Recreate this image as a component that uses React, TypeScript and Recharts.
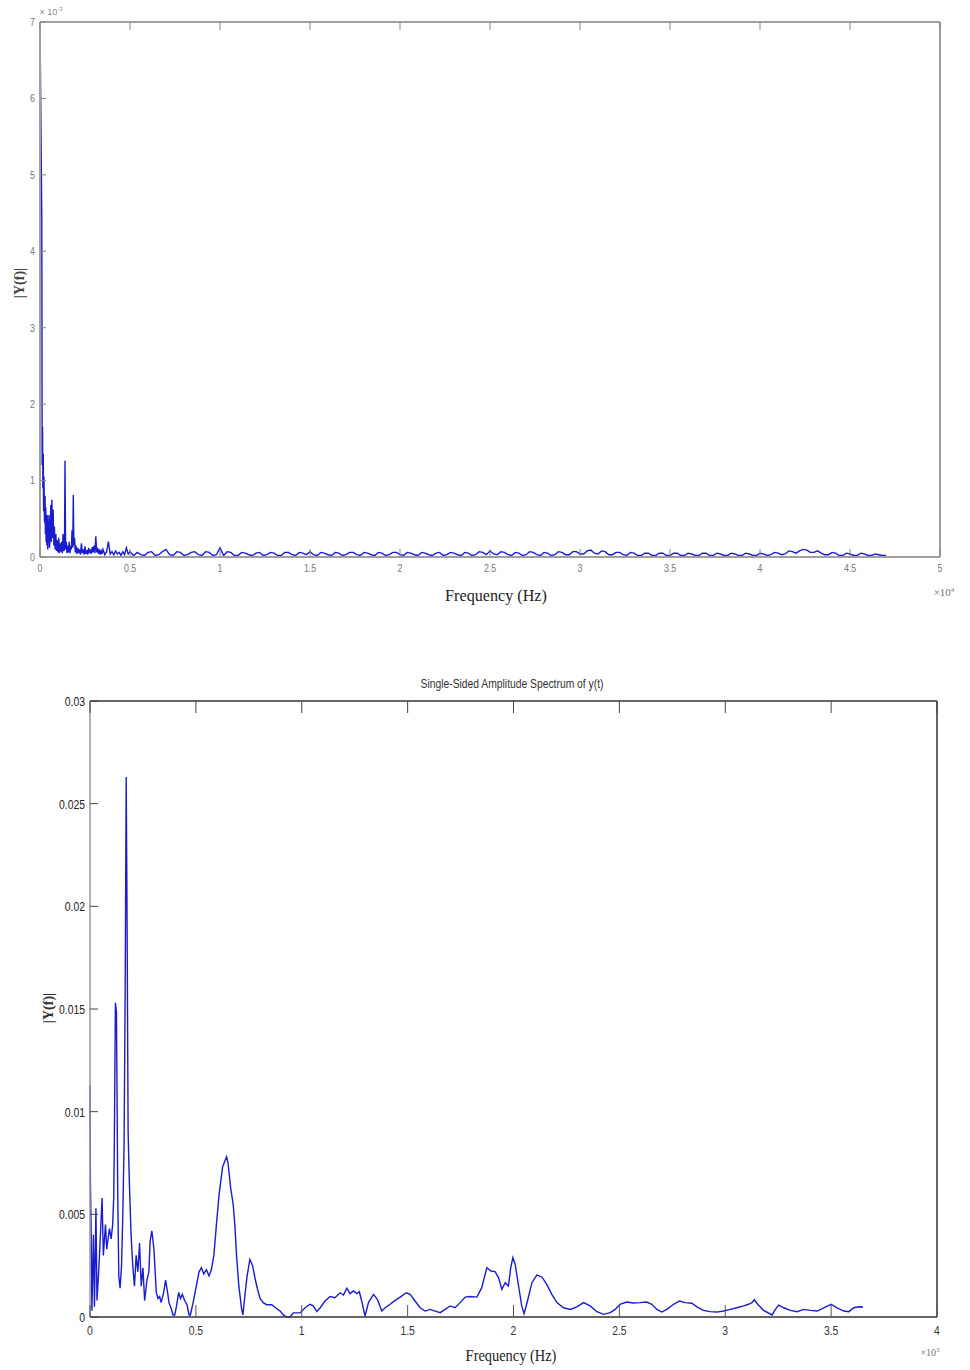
import { LineChart, Line, XAxis, YAxis } from "recharts";

// top plot: frequency in x10^4 Hz, amplitude in x10^-3
const topSpectrum: [number, number][] = [
  [0, 7.0], [0.01, 4.4], [0.012, 1.2], [0.014, 1.7], [0.016, 0.9], [0.018, 1.35],
  [0.02, 0.6], [0.022, 1.05], [0.025, 0.45], [0.028, 0.8], [0.03, 0.3], [0.032, 0.65],
  [0.034, 0.2], [0.036, 0.45], [0.038, 0.15], [0.04, 0.55], [0.043, 0.1], [0.047, 0.35],
  [0.05, 0.55], [0.053, 0.12], [0.057, 0.3], [0.06, 0.68], [0.063, 0.2], [0.066, 0.75],
  [0.07, 0.25], [0.073, 0.62], [0.077, 0.15], [0.08, 0.4], [0.084, 0.1], [0.088, 0.3],
  [0.092, 0.08], [0.096, 0.22], [0.1, 0.06], [0.104, 0.25], [0.108, 0.05], [0.112, 0.18],
  [0.116, 0.07], [0.12, 0.2], [0.124, 0.05], [0.128, 0.3], [0.132, 0.08], [0.136, 0.1],
  [0.139, 1.26], [0.142, 0.1], [0.146, 0.2], [0.15, 0.05], [0.154, 0.15], [0.158, 0.06],
  [0.162, 0.2], [0.166, 0.05], [0.17, 0.12], [0.174, 0.1], [0.178, 0.35], [0.182, 0.12],
  [0.185, 0.81], [0.188, 0.15], [0.192, 0.25], [0.196, 0.06], [0.2, 0.15], [0.205, 0.04],
  [0.21, 0.12], [0.215, 0.05], [0.22, 0.1], [0.225, 0.03], [0.23, 0.18], [0.235, 0.05],
  [0.24, 0.1], [0.245, 0.03], [0.25, 0.14], [0.255, 0.04], [0.26, 0.09], [0.265, 0.03],
  [0.27, 0.12], [0.275, 0.05], [0.28, 0.1], [0.285, 0.04], [0.29, 0.13], [0.295, 0.06],
  [0.3, 0.15], [0.305, 0.05], [0.31, 0.27], [0.315, 0.06], [0.32, 0.12], [0.325, 0.04],
  [0.33, 0.1], [0.335, 0.03], [0.34, 0.08], [0.345, 0.04], [0.35, 0.1], [0.36, 0.03],
  [0.37, 0.07], [0.38, 0.2], [0.39, 0.04], [0.4, 0.07], [0.41, 0.03], [0.42, 0.08],
  [0.43, 0.04], [0.44, 0.06], [0.45, 0.02], [0.46, 0.07], [0.47, 0.03], [0.48, 0.12],
  [0.49, 0.04], [0.5, 0.07], [0.52, 0.02], [0.54, 0.06], [0.56, 0.03], [0.58, 0.02],
  [0.6, 0.06], [0.62, 0.07], [0.64, 0.02], [0.66, 0.03], [0.68, 0.07], [0.7, 0.1],
  [0.72, 0.03], [0.74, 0.02], [0.76, 0.07], [0.78, 0.06], [0.8, 0.02], [0.82, 0.03],
  [0.84, 0.06], [0.86, 0.07], [0.88, 0.03], [0.9, 0.02], [0.92, 0.07], [0.94, 0.06],
  [0.96, 0.02], [0.98, 0.03], [1.0, 0.12], [1.02, 0.02], [1.04, 0.07], [1.06, 0.06],
  [1.08, 0.02], [1.1, 0.02], [1.12, 0.06], [1.14, 0.05], [1.16, 0.03], [1.18, 0.02],
  [1.2, 0.05], [1.22, 0.06], [1.24, 0.02], [1.26, 0.03], [1.28, 0.06], [1.3, 0.05],
  [1.32, 0.02], [1.34, 0.02], [1.36, 0.06], [1.38, 0.06], [1.4, 0.03], [1.42, 0.02],
  [1.44, 0.06], [1.46, 0.05], [1.48, 0.03], [1.5, 0.07], [1.52, 0.03], [1.54, 0.02],
  [1.56, 0.06], [1.58, 0.05], [1.6, 0.03], [1.62, 0.02], [1.64, 0.06], [1.66, 0.05],
  [1.68, 0.02], [1.7, 0.03], [1.72, 0.06], [1.74, 0.06], [1.76, 0.03], [1.78, 0.02],
  [1.8, 0.06], [1.82, 0.05], [1.84, 0.03], [1.86, 0.02], [1.88, 0.06], [1.9, 0.05],
  [1.92, 0.02], [1.94, 0.03], [1.96, 0.06], [1.98, 0.06], [2.0, 0.03], [2.02, 0.02],
  [2.04, 0.06], [2.06, 0.05], [2.08, 0.03], [2.1, 0.02], [2.12, 0.06], [2.14, 0.05],
  [2.16, 0.03], [2.18, 0.02], [2.2, 0.05], [2.22, 0.06], [2.24, 0.02], [2.26, 0.03],
  [2.28, 0.06], [2.3, 0.05], [2.32, 0.03], [2.34, 0.02], [2.36, 0.06], [2.38, 0.05],
  [2.4, 0.02], [2.42, 0.03], [2.44, 0.07], [2.46, 0.06], [2.48, 0.03], [2.5, 0.08],
  [2.52, 0.04], [2.54, 0.03], [2.56, 0.07], [2.58, 0.06], [2.6, 0.03], [2.62, 0.02],
  [2.64, 0.06], [2.66, 0.05], [2.68, 0.02], [2.7, 0.03], [2.72, 0.07], [2.74, 0.06],
  [2.76, 0.03], [2.78, 0.02], [2.8, 0.06], [2.82, 0.05], [2.84, 0.02], [2.86, 0.03],
  [2.88, 0.07], [2.9, 0.06], [2.92, 0.03], [2.94, 0.03], [2.96, 0.07], [2.98, 0.07],
  [3.0, 0.04], [3.02, 0.04], [3.04, 0.08], [3.06, 0.09], [3.08, 0.05], [3.1, 0.04],
  [3.12, 0.08], [3.14, 0.07], [3.16, 0.03], [3.18, 0.03], [3.2, 0.06], [3.22, 0.06],
  [3.24, 0.03], [3.26, 0.02], [3.28, 0.06], [3.3, 0.05], [3.32, 0.02], [3.34, 0.02],
  [3.36, 0.05], [3.38, 0.05], [3.4, 0.02], [3.42, 0.02], [3.44, 0.05], [3.46, 0.05],
  [3.48, 0.02], [3.5, 0.02], [3.52, 0.05], [3.54, 0.05], [3.56, 0.02], [3.58, 0.02],
  [3.6, 0.05], [3.62, 0.04], [3.64, 0.02], [3.66, 0.02], [3.68, 0.05], [3.7, 0.05],
  [3.72, 0.02], [3.74, 0.02], [3.76, 0.05], [3.78, 0.04], [3.8, 0.02], [3.82, 0.02],
  [3.84, 0.05], [3.86, 0.04], [3.88, 0.02], [3.9, 0.02], [3.92, 0.05], [3.94, 0.04],
  [3.96, 0.02], [3.98, 0.02], [4.0, 0.05], [4.02, 0.04], [4.04, 0.02], [4.06, 0.03],
  [4.08, 0.06], [4.1, 0.05], [4.12, 0.03], [4.14, 0.04], [4.16, 0.08], [4.18, 0.07],
  [4.2, 0.05], [4.22, 0.08], [4.24, 0.1], [4.26, 0.09], [4.28, 0.06], [4.3, 0.06],
  [4.32, 0.08], [4.34, 0.05], [4.36, 0.03], [4.38, 0.03], [4.4, 0.06], [4.42, 0.05],
  [4.44, 0.02], [4.46, 0.02], [4.48, 0.05], [4.5, 0.04], [4.52, 0.02], [4.54, 0.02],
  [4.56, 0.05], [4.58, 0.04], [4.6, 0.02], [4.62, 0.02], [4.64, 0.04], [4.66, 0.03],
  [4.68, 0.02], [4.7, 0.02],
];

// bottom plot: frequency in x10^3 Hz
const bottomSpectrum: [number, number][] = [
  [0, 0.0113], [0.002, 0.0065], [0.005, 0.0045], [0.009, 0.0003], [0.016, 0.004],
  [0.021, 0.0005], [0.028, 0.0053], [0.033, 0.0008], [0.041, 0.0022], [0.047, 0.0035],
  [0.057, 0.0058], [0.063, 0.003], [0.073, 0.0045], [0.079, 0.0033], [0.092, 0.0043],
  [0.1, 0.0038], [0.107, 0.0045], [0.112, 0.0058], [0.115, 0.0085], [0.12, 0.0153],
  [0.125, 0.0148], [0.131, 0.006], [0.136, 0.002], [0.142, 0.0014], [0.149, 0.0025],
  [0.155, 0.005], [0.161, 0.0085], [0.166, 0.0158], [0.171, 0.0263], [0.175, 0.0195],
  [0.18, 0.009], [0.186, 0.0065], [0.194, 0.004], [0.202, 0.0025], [0.21, 0.0015],
  [0.218, 0.003], [0.226, 0.0022], [0.234, 0.0036], [0.242, 0.0015], [0.25, 0.0024],
  [0.258, 0.0008], [0.269, 0.0018], [0.278, 0.0022], [0.284, 0.0037], [0.292, 0.0042],
  [0.302, 0.0033], [0.313, 0.0012], [0.321, 0.0009], [0.329, 0.001], [0.336, 0.0007],
  [0.348, 0.0012], [0.357, 0.0018], [0.365, 0.0013], [0.373, 0.0007], [0.384, 0.0004],
  [0.392, 0.0001], [0.4, 0.0001], [0.408, 0.0005], [0.419, 0.0012], [0.427, 0.0009],
  [0.436, 0.0011], [0.447, 0.0008], [0.458, 0.0006], [0.468, 0.0001], [0.474, 0.0001],
  [0.487, 0.0007], [0.502, 0.0015], [0.515, 0.0022], [0.526, 0.0024], [0.537, 0.0021],
  [0.55, 0.0023], [0.562, 0.002], [0.573, 0.0023], [0.585, 0.003], [0.597, 0.0045],
  [0.61, 0.006], [0.626, 0.0073], [0.637, 0.0076], [0.645, 0.0078], [0.652, 0.0075],
  [0.664, 0.0063], [0.676, 0.0055], [0.684, 0.0045], [0.692, 0.003], [0.703, 0.0015],
  [0.716, 0.0004], [0.722, 0.0001], [0.731, 0.001], [0.742, 0.002], [0.755, 0.0028],
  [0.768, 0.0025], [0.779, 0.0019], [0.79, 0.0014], [0.803, 0.0009], [0.818, 0.0007],
  [0.834, 0.0006], [0.858, 0.0006], [0.882, 0.0004], [0.897, 0.0003], [0.913, 0.0001],
  [0.929, 0], [0.945, 0], [0.96, 0.0002], [0.976, 0.0002], [0.992, 0.0002],
  [1.016, 0.00045], [1.039, 0.00062], [1.055, 0.00054], [1.071, 0.00026], [1.087, 0.00045],
  [1.11, 0.00078], [1.134, 0.001], [1.157, 0.00094], [1.181, 0.00118], [1.197, 0.00107],
  [1.213, 0.0014], [1.228, 0.00114], [1.244, 0.00127], [1.26, 0.00114], [1.272, 0.00123],
  [1.283, 0.00078], [1.299, 0.00005], [1.315, 0.0007], [1.339, 0.0011], [1.357, 0.00086],
  [1.378, 0.00029], [1.394, 0.00045], [1.417, 0.00062], [1.441, 0.00081], [1.465, 0.00097],
  [1.493, 0.00118], [1.512, 0.0011], [1.535, 0.00078], [1.559, 0.00045], [1.583, 0.00029],
  [1.606, 0.00037], [1.63, 0.00029], [1.654, 0.00021], [1.677, 0.00037], [1.701, 0.00054],
  [1.724, 0.00045], [1.748, 0.0007], [1.772, 0.00097], [1.795, 0.001], [1.827, 0.00097],
  [1.85, 0.00143], [1.874, 0.0024], [1.893, 0.00224], [1.913, 0.00221], [1.929, 0.00192],
  [1.945, 0.00135], [1.961, 0.00167], [1.976, 0.00151], [1.987, 0.0024], [1.997, 0.00289],
  [2.008, 0.00256], [2.024, 0.00151], [2.039, 0.00054], [2.05, 0.00016], [2.066, 0.00078],
  [2.087, 0.00167], [2.11, 0.00204], [2.134, 0.00195], [2.157, 0.00159], [2.181, 0.0011],
  [2.205, 0.0007], [2.236, 0.00045], [2.268, 0.00037], [2.299, 0.00049], [2.331, 0.0007],
  [2.362, 0.00054], [2.394, 0.00026], [2.425, 0.00013], [2.457, 0.00021], [2.48, 0.00037],
  [2.503, 0.00062], [2.535, 0.00073], [2.566, 0.00068], [2.598, 0.0007], [2.629, 0.00073],
  [2.653, 0.00062], [2.677, 0.00037], [2.7, 0.00024], [2.724, 0.00037], [2.756, 0.00062],
  [2.784, 0.00078], [2.811, 0.0007], [2.842, 0.00067], [2.866, 0.00049], [2.897, 0.00032],
  [2.929, 0.00026], [2.961, 0.00024], [2.992, 0.00029], [3.024, 0.00037], [3.055, 0.00045],
  [3.087, 0.00054], [3.11, 0.00062], [3.126, 0.0007], [3.137, 0.00084], [3.153, 0.00062],
  [3.181, 0.00032], [3.221, 0.0001], [3.237, 0.00037], [3.252, 0.00058], [3.276, 0.00045],
  [3.308, 0.00032], [3.339, 0.00026], [3.371, 0.00037], [3.402, 0.00032], [3.434, 0.00029],
  [3.465, 0.00045], [3.5, 0.00062], [3.528, 0.00045], [3.56, 0.00029], [3.584, 0.00026],
  [3.607, 0.00045], [3.631, 0.0005], [3.651, 0.00049],
];

const topFreqTicks = [0, 0.5, 1, 1.5, 2, 2.5, 3, 3.5, 4, 4.5, 5];
const topAmpTicks = [0, 1, 2, 3, 4, 5, 6, 7];
const bottomFreqTicks = [0, 0.5, 1, 1.5, 2, 2.5, 3, 3.5, 4];
const bottomAmpTicks = [0, 0.005, 0.01, 0.015, 0.02, 0.025, 0.03];

const BLUE = "#1b1bd0";
const SANS = "'Liberation Sans', Arial, sans-serif";
const SERIF = "'Liberation Serif', 'Times New Roman', serif";

type Side = "bottom" | "top" | "left" | "right";
type LabelStyle = { size: number; color: string; gap: number };

// MATLAB style ticks: drawn inward from the box edge, narrow label outside
function inwardTick(side: Side, len: number, stroke: string, label?: LabelStyle) {
  return (p: any) => {
    const x = p.x as number;
    const y = p.y as number;
    const v = p.payload?.value;
    let line;
    if (side === "bottom") line = <line x1={x} y1={y} x2={x} y2={y - len} stroke={stroke} />;
    else if (side === "top") line = <line x1={x} y1={y} x2={x} y2={y + len} stroke={stroke} />;
    else if (side === "left") line = <line x1={x} y1={y} x2={x + len} y2={y} stroke={stroke} />;
    else line = <line x1={x} y1={y} x2={x - len} y2={y} stroke={stroke} />;
    return (
      <g>
        {line}
        {label && side === "bottom" && (
          <text transform={`translate(${x},${y + label.gap}) scale(0.8,1)`} textAnchor="middle"
            dominantBaseline="hanging" fontFamily={SANS} fontSize={label.size} fill={label.color}>
            {String(v)}
          </text>
        )}
        {label && side === "left" && (
          <text transform={`translate(${x - label.gap},${y}) scale(0.8,1)`} textAnchor="end"
            dominantBaseline="central" fontFamily={SANS} fontSize={label.size} fill={label.color}>
            {String(v)}
          </text>
        )}
      </g>
    );
  };
}

const abs = (left: number, top: number, extra: React.CSSProperties = {}, scaleX = 1): React.CSSProperties => ({
  position: "absolute",
  left,
  top,
  transform: `translate(-50%, -50%) scaleX(${scaleX})`,
  whiteSpace: "nowrap",
  ...extra,
});

function TopPlot() {
  const data = topSpectrum.map(([f, a]) => ({ f, a }));
  const box = "#a0a0a0";
  return (
    <LineChart width={970} height={615} data={data}
      margin={{ top: 21, right: 29, bottom: 57, left: 39 }}>
      <XAxis xAxisId="b" dataKey="f" type="number" domain={[0, 5]} ticks={topFreqTicks}
        height={1} tickSize={0} tickMargin={0} tickLine={false} interval={0}
        axisLine={{ stroke: box, strokeWidth: 2 }}
        tick={inwardTick("bottom", 8, "#888", { size: 11, color: "#777", gap: 7 })} />
      <XAxis xAxisId="t" orientation="top" dataKey="f" type="number" domain={[0, 5]}
        ticks={topFreqTicks} height={1} tickSize={0} tickMargin={0} tickLine={false} interval={0}
        axisLine={{ stroke: box, strokeWidth: 2 }} tick={inwardTick("top", 8, "#888")} />
      <YAxis yAxisId="l" type="number" domain={[0, 7]} ticks={topAmpTicks} width={1}
        tickSize={0} tickMargin={0} tickLine={false} interval={0}
        axisLine={{ stroke: box, strokeWidth: 2 }}
        tick={inwardTick("left", 6, "#888", { size: 11, color: "#777", gap: 5 })} />
      <YAxis yAxisId="r" orientation="right" type="number" domain={[0, 7]} ticks={topAmpTicks}
        width={1} tickSize={0} tickMargin={0} tickLine={false} interval={0}
        axisLine={{ stroke: box, strokeWidth: 2 }} tick={inwardTick("right", 6, "#888")} />
      <Line xAxisId="b" yAxisId="l" dataKey="a" type="linear" dot={false}
        stroke={BLUE} strokeWidth={1.4} isAnimationActive={false} />
    </LineChart>
  );
}

function BottomPlot() {
  const data = bottomSpectrum.map(([f, a]) => ({ f, a }));
  const dark = "#333";
  return (
    <LineChart width={970} height={750} data={data}
      margin={{ top: 80, right: 32, bottom: 52, left: 89 }}>
      <XAxis xAxisId="b" dataKey="f" type="number" domain={[0, 4]} ticks={bottomFreqTicks}
        height={1} tickSize={0} tickMargin={0} tickLine={false} interval={0}
        axisLine={{ stroke: dark, strokeWidth: 1.5 }}
        tick={inwardTick("bottom", 12, "#555", { size: 13, color: "#333", gap: 8 })} />
      <XAxis xAxisId="t" orientation="top" dataKey="f" type="number" domain={[0, 4]}
        ticks={bottomFreqTicks} height={1} tickSize={0} tickMargin={0} tickLine={false} interval={0}
        axisLine={{ stroke: dark, strokeWidth: 1.5 }} tick={inwardTick("top", 12, "#444")} />
      <YAxis yAxisId="l" type="number" domain={[0, 0.03]} ticks={bottomAmpTicks} width={1}
        tickSize={0} tickMargin={0} tickLine={false} interval={0}
        axisLine={{ stroke: "#999", strokeWidth: 1.5 }}
        tick={inwardTick("left", 8, "#444", { size: 13, color: "#222", gap: 5 })} />
      <YAxis yAxisId="r" orientation="right" type="number" domain={[0, 0.03]} ticks={bottomAmpTicks}
        width={1} tickSize={0} tickMargin={0} tickLine={false} interval={0}
        axisLine={{ stroke: dark, strokeWidth: 1.5 }} tick={inwardTick("right", 8, "#444")} />
      <Line xAxisId="b" yAxisId="l" dataKey="a" type="linear" dot={false}
        stroke={BLUE} strokeWidth={1.4} isAnimationActive={false} />
    </LineChart>
  );
}

export default function App() {
  return (
    <div style={{ position: "absolute", left: 0, top: 0, width: 970, height: 1370, background: "#fff", overflow: "hidden" }}>
      <div style={{ position: "absolute", left: 0, top: 0 }}>
        <TopPlot />
      </div>
      <div style={{ position: "absolute", left: 0, top: 620 }}>
        <BottomPlot />
      </div>

      {/* top plot texts */}
      <div style={abs(51, 11, { fontFamily: SANS, fontSize: 9, color: "#888" })}>
        × 10<sup style={{ fontSize: 6 }}>-3</sup>
      </div>
      <div style={abs(496, 596, { fontFamily: SERIF, fontSize: 17, color: "#222" }, 0.95)}>Frequency (Hz)</div>
      <div style={abs(944, 592, { fontFamily: SERIF, fontSize: 11, color: "#777" })}>
        ×10<sup style={{ fontSize: 7 }}>4</sup>
      </div>
      <div style={{ ...abs(20, 283, { fontFamily: SERIF, fontSize: 14, fontWeight: "bold", color: "#444" }), transform: "translate(-50%, -50%) rotate(-90deg)" }}>
        |Y(f)|
      </div>

      {/* bottom plot texts */}
      <div style={abs(512, 684, { fontFamily: SANS, fontSize: 12, color: "#333" }, 0.86)}>
        Single-Sided Amplitude Spectrum of y(t)
      </div>
      <div style={abs(511, 1356, { fontFamily: SERIF, fontSize: 16, color: "#222" }, 0.9)}>Frequency (Hz)</div>
      <div style={abs(930, 1352, { fontFamily: SERIF, fontSize: 10, color: "#777" })}>
        ×10<sup style={{ fontSize: 7 }}>3</sup>
      </div>
      <div style={{ ...abs(49, 1008, { fontFamily: SERIF, fontSize: 14, fontWeight: "bold", color: "#333" }), transform: "translate(-50%, -50%) rotate(-90deg)" }}>
        |Y(f)|
      </div>
    </div>
  );
}
